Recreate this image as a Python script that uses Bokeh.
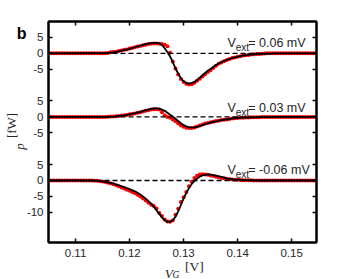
import numpy as np
from bokeh.plotting import figure
from bokeh.models import (Range1d, FixedTicker, LinearAxis, Label, Span,
                          CustomJSTickFormatter)
from bokeh.embed import file_html
from bokeh.resources import INLINE

# ---------------- data ----------------
v_ext_labels = ["0.06", "0.03", "-0.06"]
offsets = [20, 0, -20]

# measured points, sampled every 0.5 mV starting at 0.105 V
data_x_start = 0.105
data_x_step = 0.0005
data_top = [0.0] * 22 + [
    0.1, 0.3, 0.4, 0.5, 0.7, 0.9, 1.1, 1.2, 1.5, 1.7, 1.9, 2.1, 2.3, 2.5, 2.7, 2.9,
    3.0, 3.1, 3.1, 3.0, 2.9, 2.7, 2.2, 0.2, -2.6, -4.8, -6.7, -8.1, -9.0, -9.6, -9.8,
    -9.7, -9.3, -8.6, -8.0, -7.3, -6.6, -5.9, -5.3, -4.6, -3.9, -3.3, -2.9, -2.5,
    -2.1, -1.8, -1.5, -1.3, -1.1, -0.9, -0.7, -0.6, -0.5, -0.4, -0.3, -0.25, -0.2,
    -0.15, -0.1] + [0.0] * 20
data_mid = [0.0] * 22 + [
    0.05, 0.1, 0.15, 0.2, 0.3, 0.4, 0.5, 0.6, 0.8, 0.9, 1.1, 1.3, 1.5, 1.7, 1.9, 2.1,
    2.3, 2.4, 2.4, 2.3, 1.5, 0.5, 0.0, -0.3, -0.8, -1.4, -2.1, -2.7, -3.1, -3.4, -3.5,
    -3.5, -3.3, -3.0, -2.7, -2.4, -2.1, -1.9, -1.7, -1.5, -1.3, -1.2, -1.0, -0.9,
    -0.8, -0.7, -0.5, -0.4, -0.35, -0.3, -0.25, -0.2, -0.2, -0.15, -0.15, -0.1, -0.1,
    -0.05, -0.05] + [0.0] * 20
data_bot = [0.0] * 16 + [
    0.0, -0.05, -0.1, -0.2, -0.3, -0.5, -0.7, -0.9, -1.2, -1.5, -1.8, -2.2, -2.5,
    -2.9, -3.2, -3.6, -4.0, -4.5, -5.0, -5.7, -6.3, -7.0, -7.6, -8.0, -8.8, -10.2,
    -11.2, -12.3, -12.9, -13.0, -12.6, -10.8, -8.9, -6.8, -5.3, -3.6, -1.8, -0.4,
    0.8, 1.5, 1.9, 2.0, 1.9, 1.8, 1.6, 1.4, 1.2, 1.0, 0.8, 0.7, 0.5, 0.4, 0.3, 0.25,
    0.2, 0.15, 0.1, 0.1, 0.05, 0.05] + [0.0] * 25

# fitted curves
fit_top_x = [0.105, 0.116, 0.117, 0.118, 0.119, 0.120, 0.121, 0.122, 0.123, 0.124,
             0.1245, 0.125, 0.1255, 0.126, 0.1265, 0.127, 0.1275, 0.128, 0.1285,
             0.129, 0.1295, 0.130, 0.1305, 0.131, 0.1315, 0.132, 0.1325, 0.133,
             0.1335, 0.134, 0.1345, 0.135, 0.1355, 0.136, 0.1365, 0.137, 0.1375,
             0.138, 0.1385, 0.139, 0.1395, 0.140, 0.1405, 0.141, 0.1415, 0.142,
             0.1425, 0.143, 0.144, 0.145, 0.146, 0.148, 0.150, 0.155]
fit_top_y = [0, 0.1, 0.3, 0.6, 1.0, 1.4, 1.9, 2.4, 2.9, 3.2, 3.3, 3.3, 3.1, 2.6, 1.6,
             0.4, -1.0, -2.8, -4.7, -6.4, -7.8, -8.8, -9.3, -9.5, -9.4, -9.0, -8.4,
             -7.7, -6.9, -6.2, -5.5, -4.9, -4.3, -3.7, -3.2, -2.8, -2.4, -2.1, -1.8,
             -1.5, -1.3, -1.1, -0.9, -0.7, -0.6, -0.5, -0.4, -0.3, -0.2, -0.15, -0.1,
             -0.05, 0, 0]
fit_mid_x = [0.105, 0.116, 0.117, 0.118, 0.119, 0.120, 0.121, 0.122, 0.123, 0.124,
             0.1245, 0.125, 0.1255, 0.126, 0.1265, 0.127, 0.1275, 0.128, 0.1285,
             0.129, 0.1295, 0.130, 0.1305, 0.131, 0.1315, 0.132, 0.1325, 0.133,
             0.1335, 0.134, 0.1345, 0.135, 0.1355, 0.136, 0.1365, 0.137, 0.1375,
             0.138, 0.1385, 0.139, 0.1395, 0.140, 0.141, 0.142, 0.143, 0.144, 0.146,
             0.148, 0.155]
fit_mid_y = [0, 0, 0.1, 0.3, 0.5, 0.8, 1.2, 1.6, 2.1, 2.5, 2.7, 2.7, 2.6, 2.3, 1.9, 1.3,
             0.7, 0.1, -0.6, -1.3, -2.0, -2.6, -3.0, -3.3, -3.4, -3.3, -3.1, -2.9,
             -2.6, -2.3, -2.0, -1.8, -1.6, -1.4, -1.2, -1.0, -0.9, -0.8, -0.7, -0.5,
             -0.4, -0.35, -0.25, -0.2, -0.15, -0.1, -0.05, 0, 0]
fit_bot_x = [0.105, 0.113, 0.114, 0.115, 0.116, 0.117, 0.118, 0.119, 0.120, 0.121,
             0.122, 0.123, 0.124, 0.1245, 0.125, 0.1255, 0.126, 0.1265, 0.127, 0.1275,
             0.128, 0.1285, 0.129, 0.1295, 0.130, 0.1305, 0.131, 0.1315, 0.132,
             0.1325, 0.133, 0.1335, 0.134, 0.1345, 0.135, 0.1355, 0.136, 0.1365,
             0.137, 0.1375, 0.138, 0.1385, 0.139, 0.1395, 0.140, 0.141, 0.142, 0.143,
             0.145, 0.155]
fit_bot_y = [0, 0, -0.1, -0.3, -0.6, -1.0, -1.5, -2.1, -2.7, -3.4, -4.4, -5.7, -7.3,
             -8.3, -9.4, -10.5, -11.6, -12.5, -13.0, -13.0, -12.5, -11.4, -9.7, -7.7,
             -5.7, -3.9, -2.4, -1.1, -0.2, 0.6, 1.2, 1.6, 1.8, 1.9, 1.85, 1.7, 1.5,
             1.3, 1.1, 0.9, 0.7, 0.55, 0.4, 0.3, 0.25, 0.15, 0.1, 0.05, 0, 0]

x_ticks = [0.11, 0.12, 0.13, 0.14, 0.15]
x_tick_labels = ["0.11", "0.12", "0.13", "0.14", "0.15"]
y_ticks = [25, 20, 15, 5, 0, -5, -15, -20, -25, -30]
y_tick_labels = ["5", "0", "-5", "5", "0", "-5", "5", "0", "-5", "-10"]

# ---------------- layout (Bokeh's page has no body margin) ----------------
W, H = 349, 279
X0, X1 = 0.105, 0.1546
Y0, Y1 = -39.5, 30
FL, FT, FR, FB = 45, 21, 316, 242          # frame edges in page pixels
FW, FH = FR - FL, FB - FT
NBSP = "\u00a0"


def px2x(px):
    return X0 + (px - FL) * (X1 - X0) / FW


def py2y(py):
    return Y1 - (py - FT) * (Y1 - Y0) / FH


p = figure(width=W, height=H, x_range=Range1d(X0, X1), y_range=Range1d(Y0, Y1),
           output_backend="svg", toolbar_location=None,
           min_border_left=FL, min_border_right=W - FR, min_border_top=FT,
           min_border_bottom=H - FB)
p.xgrid.visible = False
p.ygrid.visible = False
p.outline_line_color = "black"
p.outline_line_width = 2
p.background_fill_color = "white"
p.border_fill_color = "white"


def style_axis(ax, ticks, overrides, show_labels, standoff):
    ax.ticker = FixedTicker(ticks=ticks)
    ax.minor_tick_line_color = None
    ax.major_tick_in = 4
    ax.major_tick_out = 0
    ax.major_tick_line_width = 1.5
    ax.major_tick_line_color = "black"
    ax.axis_line_width = 2
    ax.axis_line_color = "black"
    ax.major_label_standoff = standoff
    if show_labels:
        ax.major_label_overrides = dict(zip(ticks, overrides))
        ax.major_label_text_font = "Liberation Sans"
        ax.major_label_text_font_size = "11.5px"
        ax.major_label_text_color = "#262626"
    else:
        ax.formatter = CustomJSTickFormatter(code="return ''")
        ax.major_label_text_font_size = "1px"


xa, ya = p.xaxis[0], p.yaxis[0]
style_axis(xa, x_ticks, x_tick_labels, True, 6)
style_axis(ya, y_ticks, y_tick_labels, True, 5)
top_ax = LinearAxis()
right_ax = LinearAxis()
style_axis(top_ax, x_ticks, x_tick_labels, False, 0)
style_axis(right_ax, y_ticks, y_tick_labels, False, 0)
p.add_layout(top_ax, "above")
p.add_layout(right_ax, "right")

# axis titles: the upright parts are axis labels, the italic parts labels
ya.axis_label = NBSP * 4 + "[fW]"
ya.axis_label_text_font = "Liberation Serif"
ya.axis_label_text_font_style = "normal"
ya.axis_label_text_font_size = "13px"
ya.axis_label_text_color = "#262626"
ya.axis_label_standoff = 5
xa.axis_label = NBSP * 7 + "[V]"
xa.axis_label_text_font = "Liberation Serif"
xa.axis_label_text_font_style = "normal"
xa.axis_label_text_font_size = "13.5px"
xa.axis_label_text_color = "#262626"
xa.axis_label_standoff = -1

datasets = [(data_top, fit_top_x, fit_top_y),
            (data_mid, fit_mid_x, fit_mid_y),
            (data_bot, fit_bot_x, fit_bot_y)]

for off in offsets:
    p.add_layout(Span(location=off, dimension="width", line_color="black",
                      line_width=1.3, line_dash="5 3"))

for (dy, fx, fy), off in zip(datasets, offsets):
    dx = np.round(data_x_start + data_x_step * np.arange(len(dy)), 5)
    p.scatter(dx, np.array(dy) + off, size=4, marker="circle",
              fill_color="#ff0000", line_color=None)

for (dy, fx, fy), off in zip(datasets, offsets):
    p.line(fx, np.array(fy) + off, line_color="black", line_width=1.8)

# V_ext annotations
base_py = [42, 107, 169]
for lab, bpy in zip(v_ext_labels, base_py):
    p.add_layout(Label(x=px2x(226), y=py2y(bpy), text="V", text_font="Liberation Sans",
                       text_font_size="12.5px", text_color="#262626",
                       text_baseline="alphabetic", text_align="left"))
    p.add_layout(Label(x=px2x(234.3), y=py2y(bpy + 5), text="ext",
                       text_font="Liberation Sans", text_font_size="10px",
                       text_color="#262626", text_baseline="alphabetic",
                       text_align="left"))
    p.add_layout(Label(x=px2x(247), y=py2y(bpy), text="= " + lab + " mV",
                       text_font="Liberation Sans", text_font_size="12.5px",
                       text_color="#262626", text_baseline="alphabetic",
                       text_align="left"))

# texts outside the frame (side panels are not clipped)
p.add_layout(Label(x=px2x(15.5), y=py2y(146), text="p", text_font="Liberation Serif",
                   text_font_style="italic", text_font_size="13px", angle=np.pi / 2,
                   text_baseline="alphabetic", text_align="center",
                   text_color="#262626"), "right")
p.add_layout(Label(x=px2x(162.5), y=py2y(272.5), text="V", text_font="Liberation Serif",
                   text_font_style="italic", text_font_size="13.5px",
                   text_baseline="alphabetic", text_align="left",
                   text_color="#262626"), "right")
p.add_layout(Label(x=px2x(170.5), y=py2y(274.5), text="G", text_font="Liberation Serif",
                   text_font_style="italic", text_font_size="9.5px",
                   text_baseline="alphabetic", text_align="left",
                   text_color="#262626"), "right")
p.add_layout(Label(x=px2x(13), y=py2y(33), text="b", text_font="Liberation Sans",
                   text_font_style="bold", text_font_size="16px",
                   text_baseline="alphabetic", text_align="left",
                   text_color="black"), "above")

open("out.html", "w").write(file_html(p, INLINE))
